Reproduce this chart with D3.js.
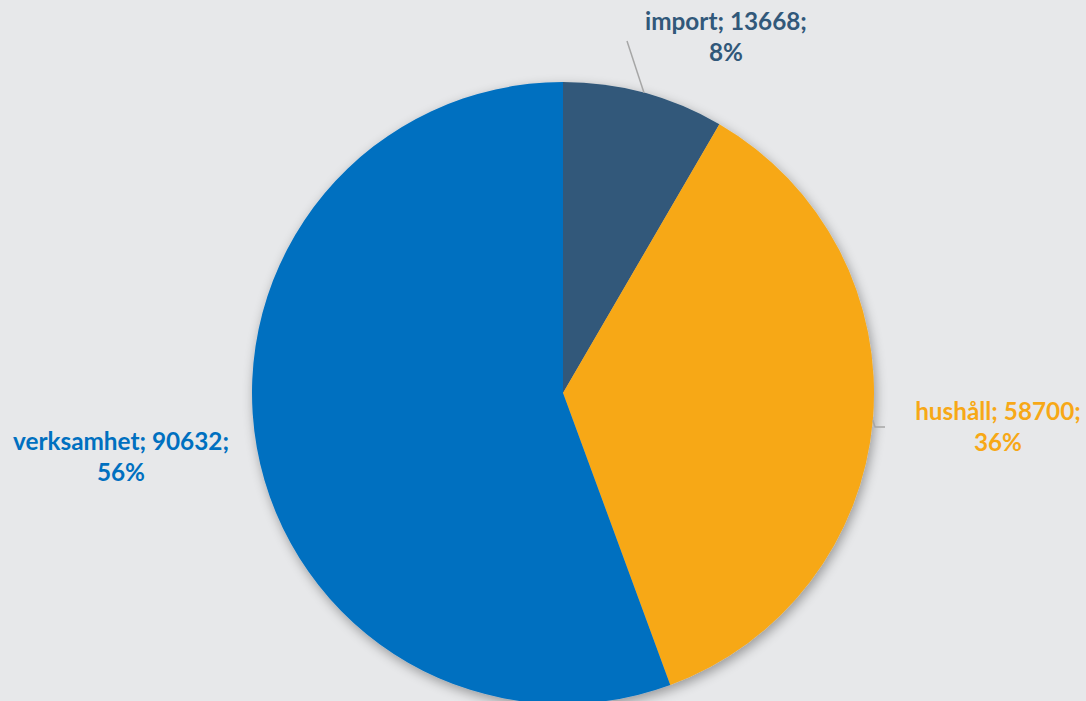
<!DOCTYPE html>
<html><head><meta charset="utf-8">
<script src="https://cdn.jsdelivr.net/npm/d3@7"></script>
<style>html,body{margin:0;padding:0;background:#e7e8ea;overflow:hidden}</style>
</head><body>
<svg id="c" width="1086" height="701"></svg>
<script>
const categories = ["import", "hushåll", "verksamhet"];
const values = [13668, 58700, 90632];
const percents = ["8%", "36%", "56%"];
const colors = ["#31587a", "#f7a817", "#0070c0"];

const W = 1086, H = 701, cx = 563, cy = 393, R = 311;
const svg = d3.select("#c");
svg.append("rect").attr("width", W).attr("height", H).attr("fill", "#e7e8ea");
const defs = svg.append("defs");
const f = defs.append("filter").attr("id", "sh").attr("x", "-20%").attr("y", "-20%").attr("width", "140%").attr("height", "140%");
f.append("feGaussianBlur").attr("in", "SourceAlpha").attr("stdDeviation", 6).attr("result", "b");
f.append("feOffset").attr("in", "b").attr("dx", 2).attr("dy", 4).attr("result", "o");
f.append("feComponentTransfer").attr("in", "o").attr("result", "o2").append("feFuncA").attr("type", "linear").attr("slope", 0.35);
const m = f.append("feMerge");
m.append("feMergeNode").attr("in", "o2");
m.append("feMergeNode").attr("in", "SourceGraphic");

const data = categories.map((c, i) => ({ name: c, value: values[i], pct: percents[i], color: colors[i] }));
const pie = d3.pie().value(d => d.value).sort(null);
const arcs = pie(data);
const arc = d3.arc().innerRadius(0).outerRadius(R);
const g = svg.append("g").attr("transform", `translate(${cx},${cy})`);
g.append("g").attr("filter", "url(#sh)").selectAll("path").data(arcs).join("path")
  .attr("d", arc).attr("fill", d => d.data.color);

// leader lines
const edge = a => { const m = (a.startAngle + a.endAngle) / 2; return [R * Math.sin(m), -R * Math.cos(m)]; };
const e0 = edge(arcs[0]);
g.append("polyline").attr("points", [e0, [627 - cx, 41 - cy]].map(p => p.join(",")).join(" "))
  .attr("fill", "none").attr("stroke", "#a6a6a6").attr("stroke-width", 1.5);
const e1 = edge(arcs[1]);
g.append("polyline").attr("points", [e1, [875 - cx, 427 - cy], [885 - cx, 427 - cy]].map(p => p.join(",")).join(" "))
  .attr("fill", "none").attr("stroke", "#a6a6a6").attr("stroke-width", 1.5);

const labelPos = [[726, 30], [998, 420], [121, 450]];
arcs.forEach((a, i) => {
  const t = svg.append("text").attr("x", labelPos[i][0]).attr("y", labelPos[i][1])
    .attr("text-anchor", "middle").attr("fill", a.data.color)
    .style("font-family", "Lato, 'Open Sans', sans-serif").style("font-weight", "bold").style("font-size", "24.3px");
  t.append("tspan").attr("x", labelPos[i][0]).text(`${a.data.name}; ${a.data.value};`);
  t.append("tspan").attr("x", labelPos[i][0]).attr("dy", 31).text(a.data.pct);
});
</script>
</body></html>
